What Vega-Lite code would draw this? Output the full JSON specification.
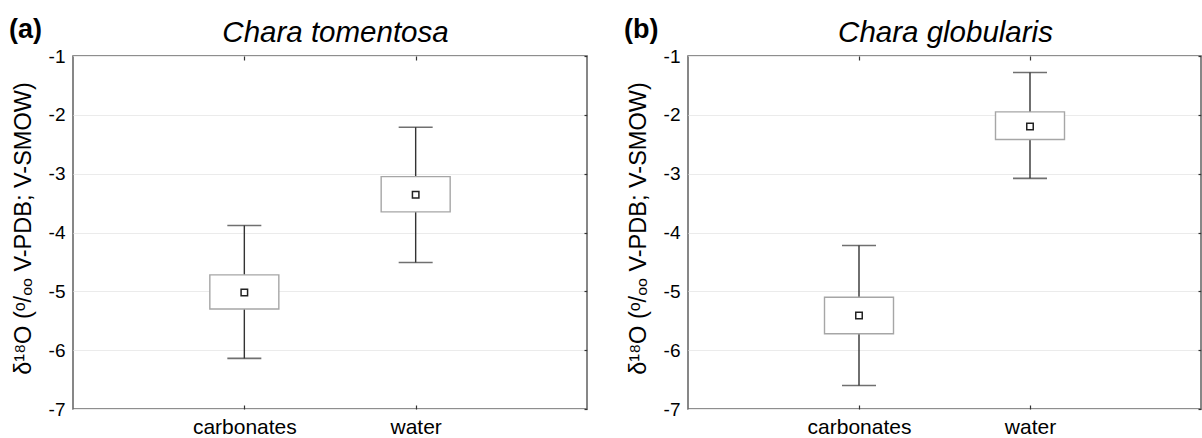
{
  "$schema": "https://vega.github.io/schema/vega-lite/v6.json",
  "background": "white",
  "padding": {"left": 8, "top": 15, "right": 0, "bottom": 0},
  "spacing": 101,
  "bounds": "flush",
  "config": {
    "font": "Liberation Sans",
    "view": {"stroke": "#6a6a6a", "strokeWidth": 1.6},
    "axis": {"labelFont": "Liberation Sans", "titleFont": "Liberation Sans", "labelColor": "black", "titleColor": "black", "domain": false, "tickColor": "#333", "tickWidth": 1.2}
  },
  "datasets": {
    "a": [
      {"cat": "carbonates", "lo": -6.14, "q1": -5.30, "mean": -5.02, "q3": -4.72, "hi": -3.88},
      {"cat": "water", "lo": -4.51, "q1": -3.65, "mean": -3.36, "q3": -3.05, "hi": -2.21}
    ],
    "b": [
      {"cat": "carbonates", "lo": -6.60, "q1": -5.72, "mean": -5.41, "q3": -5.10, "hi": -4.22},
      {"cat": "water", "lo": -3.08, "q1": -2.42, "mean": -2.20, "q3": -1.95, "hi": -1.28}
    ]
  },
  "hconcat": [
    {
      "title": {"text": "(a)", "anchor": "start", "frame": "bounds", "fontSize": 27, "fontWeight": "bold", "color": "black", "baseline": "alphabetic", "dy": 52, "dx": -2},
      "width": 514,
      "height": 353,
      "data": {"name": "a"},
      "resolve": {"axis": {"x": "independent", "y": "independent"}},
      "layer": [
        {
          "mark": {"type": "rule", "color": "#333", "strokeWidth": 1.4},
          "encoding": {
            "x": {"field": "cat", "type": "nominal", "sort": ["carbonates", "water"], "scale": {"type": "point", "padding": 1},
                  "axis": {"orient": "bottom", "title": null, "labelAngle": 0, "labelFontSize": 21, "labelPadding": 11, "tickSize": -4, "grid": false}},
            "y": {"field": "lo", "type": "quantitative", "scale": {"domain": [-7, -1], "nice": false, "zero": false},
                  "axis": {"orient": "left", "values": [-7, -6, -5, -4, -3, -2, -1], "labelExpr": "'' + datum.value", "labelFontSize": 19, "labelPadding": 8, "ticks": false, "grid": true, "gridColor": "#ebebeb", "gridWidth": 1.2,
                           "title": "δ¹⁸O (ᵒ/ₒₒ V-PDB; V-SMOW)", "titleFontSize": 23.5, "titleFontWeight": "normal", "titleX": -50, "titleY": 172, "titleBaseline": "middle", "titleAngle": -90}},
            "y2": {"field": "hi"}
          }
        },
        {
          "mark": {"type": "tick", "color": "#333", "thickness": 1.6, "size": 34},
          "encoding": {
            "x": {"field": "cat", "type": "nominal", "sort": ["carbonates", "water"],
                  "axis": {"orient": "top", "labels": false, "tickSize": -4, "grid": false,
                           "title": "Chara tomentosa", "titleFontSize": 29.5, "titleFontStyle": "italic", "titleFontWeight": "normal", "titleX": 262, "titleY": -15, "titleBaseline": "alphabetic"}},
            "y": {"field": "lo", "type": "quantitative",
                  "axis": {"orient": "right", "values": [-7, -6, -5, -4, -3, -2, -1], "labels": false, "tickSize": -3, "grid": false, "title": null}}
          }
        },
        {
          "mark": {"type": "tick", "color": "#333", "thickness": 1.6, "size": 34},
          "encoding": {
            "x": {"field": "cat", "type": "nominal", "sort": ["carbonates", "water"], "axis": null},
            "y": {"field": "hi", "type": "quantitative", "axis": null}
          }
        },
        {
          "mark": {"type": "bar", "fill": "white", "stroke": "#a6a6a6", "strokeWidth": 1.4, "size": 69},
          "encoding": {
            "x": {"field": "cat", "type": "nominal", "sort": ["carbonates", "water"], "axis": null},
            "y": {"field": "q1", "type": "quantitative", "axis": null},
            "y2": {"field": "q3"}
          }
        },
        {
          "mark": {"type": "point", "shape": "square", "filled": false, "fill": "white", "fillOpacity": 1, "stroke": "#222", "strokeWidth": 1.5, "size": 42, "opacity": 1},
          "encoding": {
            "x": {"field": "cat", "type": "nominal", "sort": ["carbonates", "water"], "axis": null},
            "y": {"field": "mean", "type": "quantitative", "axis": null}
          }
        }
      ]
    },
    {
      "title": {"text": "(b)", "anchor": "start", "frame": "bounds", "fontSize": 27, "fontWeight": "bold", "color": "black", "baseline": "alphabetic", "dy": 52, "dx": -2},
      "width": 513,
      "height": 353,
      "data": {"name": "b"},
      "resolve": {"axis": {"x": "independent", "y": "independent"}},
      "layer": [
        {
          "mark": {"type": "rule", "color": "#333", "strokeWidth": 1.4},
          "encoding": {
            "x": {"field": "cat", "type": "nominal", "sort": ["carbonates", "water"], "scale": {"type": "point", "padding": 1},
                  "axis": {"orient": "bottom", "title": null, "labelAngle": 0, "labelFontSize": 21, "labelPadding": 11, "tickSize": -4, "grid": false}},
            "y": {"field": "lo", "type": "quantitative", "scale": {"domain": [-7, -1], "nice": false, "zero": false},
                  "axis": {"orient": "left", "values": [-7, -6, -5, -4, -3, -2, -1], "labelExpr": "'' + datum.value", "labelFontSize": 19, "labelPadding": 8, "ticks": false, "grid": true, "gridColor": "#ebebeb", "gridWidth": 1.2,
                           "title": "δ¹⁸O (ᵒ/ₒₒ V-PDB; V-SMOW)", "titleFontSize": 23.5, "titleFontWeight": "normal", "titleX": -50, "titleY": 172, "titleBaseline": "middle", "titleAngle": -90}},
            "y2": {"field": "hi"}
          }
        },
        {
          "mark": {"type": "tick", "color": "#333", "thickness": 1.6, "size": 34},
          "encoding": {
            "x": {"field": "cat", "type": "nominal", "sort": ["carbonates", "water"],
                  "axis": {"orient": "top", "labels": false, "tickSize": -4, "grid": false,
                           "title": "Chara globularis", "titleFontSize": 29.5, "titleFontStyle": "italic", "titleFontWeight": "normal", "titleX": 257, "titleY": -15, "titleBaseline": "alphabetic"}},
            "y": {"field": "lo", "type": "quantitative",
                  "axis": {"orient": "right", "values": [-7, -6, -5, -4, -3, -2, -1], "labels": false, "tickSize": -3, "grid": false, "title": null}}
          }
        },
        {
          "mark": {"type": "tick", "color": "#333", "thickness": 1.6, "size": 34},
          "encoding": {
            "x": {"field": "cat", "type": "nominal", "sort": ["carbonates", "water"], "axis": null},
            "y": {"field": "hi", "type": "quantitative", "axis": null}
          }
        },
        {
          "mark": {"type": "bar", "fill": "white", "stroke": "#a6a6a6", "strokeWidth": 1.4, "size": 69},
          "encoding": {
            "x": {"field": "cat", "type": "nominal", "sort": ["carbonates", "water"], "axis": null},
            "y": {"field": "q1", "type": "quantitative", "axis": null},
            "y2": {"field": "q3"}
          }
        },
        {
          "mark": {"type": "point", "shape": "square", "filled": false, "fill": "white", "fillOpacity": 1, "stroke": "#222", "strokeWidth": 1.5, "size": 42, "opacity": 1},
          "encoding": {
            "x": {"field": "cat", "type": "nominal", "sort": ["carbonates", "water"], "axis": null},
            "y": {"field": "mean", "type": "quantitative", "axis": null}
          }
        }
      ]
    }
  ]
}
